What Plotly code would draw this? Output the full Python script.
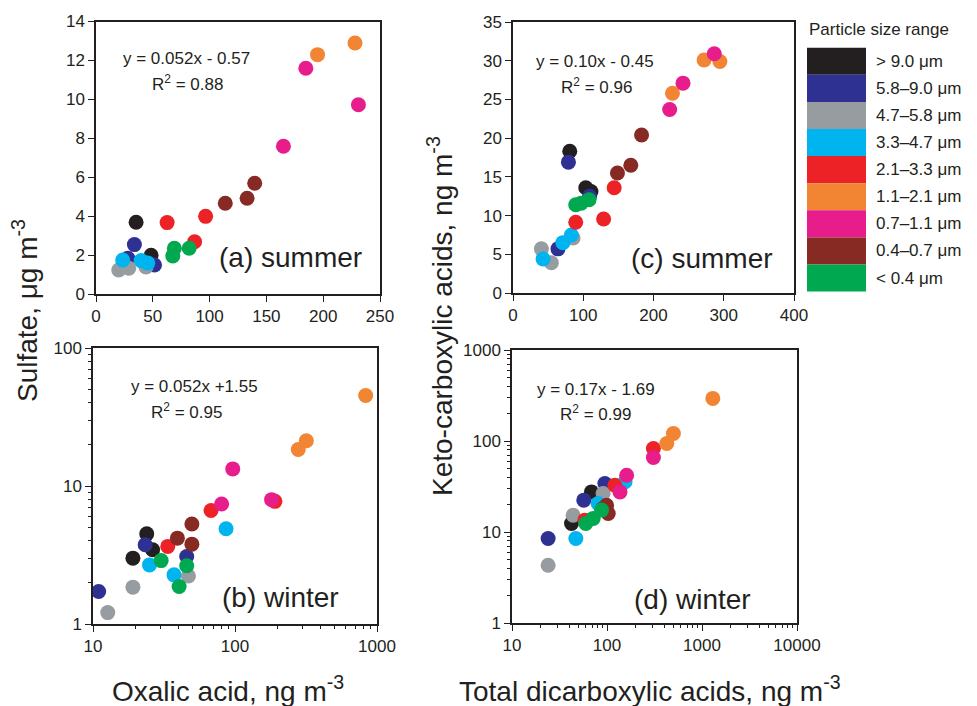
import plotly.graph_objects as go

W, H = 977, 706

size_labels = ["&gt; 9.0 μm", "5.8–9.0 μm", "4.7–5.8 μm", "3.3–4.7 μm", "2.1–3.3 μm",
               "1.1–2.1 μm", "0.7–1.1 μm", "0.4–0.7 μm", "&lt; 0.4 μm"]
colors = ["#231f20", "#2e3192", "#979ca1", "#00b4ef", "#ec2227",
          "#f28533", "#e81d8c", "#872a24", "#00a84f"]

# (a) summer: oxalic acid (ng m-3) vs sulfate (ug m-3)
a_x = [[35.3, 48.5], [33.8, 51.5, 28.0], [20.0, 28.8, 44.0], [23.5, 39.7, 45.6],
       [62.6, 96.5, 86.8], [195, 228], [184.7, 231, 165], [139.7, 133, 113.8], [69, 82, 67.6]]
a_y = [[3.7, 2.0], [2.55, 1.5, 1.85], [1.25, 1.34, 1.4], [1.76, 1.73, 1.6],
       [3.68, 4.0, 2.7], [12.3, 12.9], [11.6, 9.73, 7.6], [5.7, 4.93, 4.67], [2.36, 2.36, 1.97]]
# (b) winter
b_x = [[23.9, 19.1, 26.3], [23.3, 10.96, 45.7], [19.1, 12.7, 47], [86.5, 25, 37.2],
       [191, 67.8, 33.6], [832, 318, 279], [96.4, 181, 80.5], [49.7, 39.3, 49.7], [30.2, 45.7, 40.4]]
b_y = [[4.5, 3.0, 3.45], [3.75, 1.72, 3.08], [1.85, 1.21, 2.23], [4.9, 2.68, 2.27],
       [7.74, 6.65, 3.65], [45.3, 21.3, 18.4], [13.3, 7.96, 7.4], [5.3, 4.19, 3.79], [2.88, 2.64, 1.87]]
# (c) summer: total dicarboxylic acids vs keto-carboxylic acids (ng m-3)
c_x = [[80.8, 103.6, 111], [78.9, 64, 109], [40.4, 54.6, 85.5], [83, 71, 42.8],
       [144, 129, 89.3], [272, 294.5, 227], [286.5, 242, 223], [183, 167.7, 148.7], [89.3, 108.3, 97]]
c_y = [[18.3, 13.6, 13.1], [16.9, 5.7, 12.5], [5.7, 3.9, 7.1], [7.5, 6.5, 4.4],
       [13.6, 9.56, 9.13], [30.1, 29.9, 25.8], [30.9, 27.1, 23.7], [20.4, 16.5, 15.5], [11.4, 12.05, 11.6]]
# (d) winter
d_x = [[68.7, 42.3], [24, 57, 95], [24, 44, 91], [47, 80.7, 155],
       [308, 121, 58.5], [1300, 500, 426], [308, 161, 137], [99, 103, 90], [59.8, 71.6, 87.7]]
d_y = [[27.6, 12.4], [8.47, 22.4, 34.1], [4.31, 15.3, 26.5], [8.47, 20.6, 35.6],
       [82.8, 32.7, 13.5], [294, 121, 94], [65.9, 42, 27.6], [19.7, 16, 18], [12.4, 14.1, 17.4]]

equations = ["y = 0.052x - 0.57", "y = 0.052x +1.55", "y = 0.10x - 0.45", "y = 0.17x - 1.69"]
r2_texts = ["R<sup>2</sup> = 0.88", "R<sup>2</sup> = 0.95", "R<sup>2</sup> = 0.96", "R<sup>2</sup> = 0.99"]
panel_labels = ["(a) summer", "(b) winter", "(c) summer", "(d) winter"]

FONT = "Arial, Liberation Sans, sans-serif"
INK = "#231f20"

fig = go.Figure()
panels = [(a_x, a_y, "x", "y"), (b_x, b_y, "x2", "y2"), (c_x, c_y, "x3", "y3"), (d_x, d_y, "x4", "y4")]
for xs, ys, xa, ya in panels:
    for i in range(len(size_labels)):
        fig.add_trace(go.Scatter(x=xs[i], y=ys[i], mode="markers", xaxis=xa, yaxis=ya,
                                 marker=dict(size=15, color=colors[i], line=dict(width=0)),
                                 showlegend=False, hoverinfo="x+y"))


def px(x, y):
    return x / W, 1 - y / H


def dom_x(x0, x1):
    return [x0 / W, x1 / W]


def dom_y(y_top, y_bot):
    return [1 - y_bot / H, 1 - y_top / H]


def minor_vals(lo, hi):
    return [m * 10 ** k for k in range(lo, hi) for m in range(2, 10)]


base = dict(showline=True, linecolor=INK, linewidth=1.5, mirror=True, ticks="outside",
            ticklen=6, tickwidth=1.3, tickcolor=INK, showgrid=False, zeroline=False,
            automargin=False, tickfont=dict(family=FONT, size=17, color=INK))
minor = dict(ticks="outside", ticklen=3.5, tickwidth=1, tickcolor=INK, showgrid=False)

fig.update_layout(
    template="none",
    width=W, height=H, margin=dict(l=0, r=0, t=0, b=0, pad=0, autoexpand=False),
    paper_bgcolor="white", plot_bgcolor="white", showlegend=False,
    xaxis=dict(base, domain=dom_x(96, 380), range=[0, 250], tickvals=[0, 50, 100, 150, 200, 250], anchor="y"),
    yaxis=dict(base, domain=dom_y(21.5, 294.3), range=[0, 14], tickvals=list(range(0, 15, 2)), anchor="x"),
    xaxis2=dict(base, domain=dom_x(93, 377), type="log", range=[1, 3], tickvals=[10, 100, 1000],
                ticktext=["10", "100", "1000"], anchor="y2",
                minor=dict(minor, tickmode="array", tickvals=minor_vals(1, 3))),
    yaxis2=dict(base, domain=dom_y(348, 624), type="log", range=[0, 2], tickvals=[1, 10, 100],
                ticktext=["1", "10", "100"], anchor="x2",
                minor=dict(minor, tickmode="array", tickvals=minor_vals(0, 2))),
    xaxis3=dict(base, domain=dom_x(513, 794), range=[0, 400], tickvals=[0, 100, 200, 300, 400], anchor="y3"),
    yaxis3=dict(base, domain=dom_y(22, 293), range=[0, 35], tickvals=list(range(0, 36, 5)), anchor="x3"),
    xaxis4=dict(base, domain=dom_x(512, 797), type="log", range=[1, 4], tickvals=[10, 100, 1000, 10000],
                ticktext=["10", "100", "1000", "10000"], anchor="y4",
                minor=dict(minor, tickmode="array", tickvals=minor_vals(1, 4))),
    yaxis4=dict(base, domain=dom_y(350, 623), type="log", range=[0, 3], tickvals=[1, 10, 100, 1000],
                ticktext=["1", "10", "100", "1000"], anchor="x4",
                minor=dict(minor, tickmode="array", tickvals=minor_vals(0, 3))),
)

ann = []


def add_text(text, x, y, size, xanchor="center", angle=0):
    xx, yy = px(x, y)
    ann.append(dict(text=text, x=xx, y=yy, xref="paper", yref="paper", showarrow=False,
                    xanchor=xanchor, yanchor="middle", textangle=angle,
                    font=dict(family=FONT, size=size, color=INK)))


eq_pos = [(186, 59), (194, 386), (595, 61), (596, 389)]
r2_pos = [(187, 83), (186, 411), (596, 86), (595, 413)]
lab_pos = [(290, 257), (280, 597), (702, 258), (692, 599)]
for k in range(4):
    add_text(equations[k], *eq_pos[k], 17)
    add_text(r2_texts[k], *r2_pos[k], 17)
    add_text(panel_labels[k], *lab_pos[k], 28)

add_text("Oxalic acid, ng m<sup>-3</sup>", 228, 689, 28)
add_text("Total dicarboxylic acids, ng m<sup>-3</sup>", 650, 689, 28)
add_text("Sulfate, μg m<sup>-3</sup>", 25, 311, 28, angle=-90)
add_text("Keto-carboxylic acids, ng m<sup>-3</sup>", 440, 316, 28, angle=-90)

# legend (size-class colour key)
add_text("Particle size range", 807, 30, 17, xanchor="left")
top, row_h = 47.7, 27.1
shapes = []
for i, (lab, col) in enumerate(zip(size_labels, colors)):
    y0 = top + i * row_h
    x0p, y0p = px(807, y0)
    x1p, y1p = px(866, y0 + row_h)
    shapes.append(dict(type="rect", xref="paper", yref="paper", x0=x0p, x1=x1p, y0=y1p, y1=y0p,
                       fillcolor=col, line=dict(width=0)))
    add_text(lab, 874, y0 + row_h / 2, 17, xanchor="left")

fig.update_layout(annotations=ann, shapes=shapes)
fig.write_html("out.html", config={"displayModeBar": False},
               post_script="document.body.style.margin='0';document.body.style.overflow='hidden';")
